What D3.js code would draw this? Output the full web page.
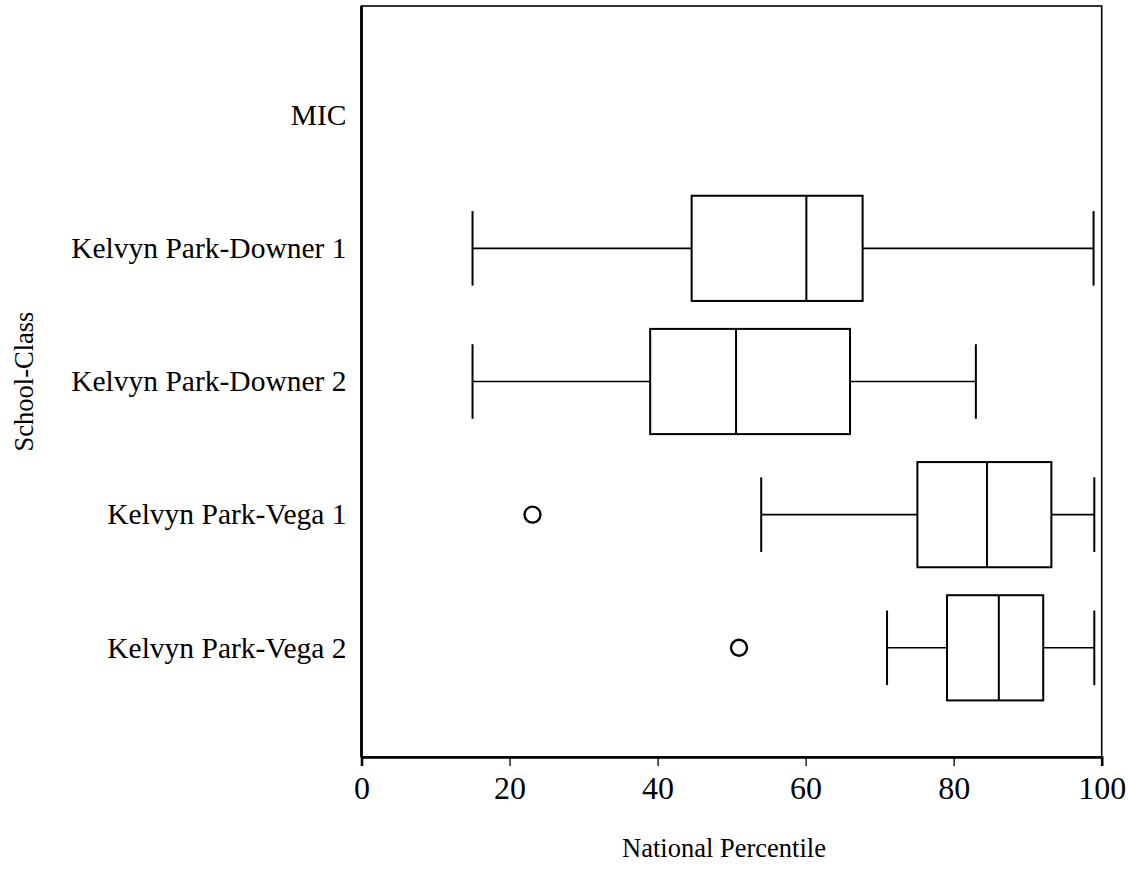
<!DOCTYPE html>
<html>
<head>
<meta charset="utf-8">
<script src="https://cdn.jsdelivr.net/npm/d3@7"></script>
<style>
  body { margin: 0; background: #fff; }
  text { font-family: 'Liberation Serif', 'Times New Roman', serif; fill: #000; }
</style>
</head>
<body>
<svg width="1128" height="895"></svg>
<script>
// data
const categories = ['MIC', 'Kelvyn Park-Downer 1', 'Kelvyn Park-Downer 2', 'Kelvyn Park-Vega 1', 'Kelvyn Park-Vega 2'];
const lowWhisker = [null, 15, 15, 54, 71];
const q1 = [null, 44.6, 39, 75.1, 79.1];
const median = [null, 60.1, 50.6, 84.5, 86.1];
const q3 = [null, 67.7, 66, 93.2, 92.1];
const highWhisker = [null, 98.9, 83, 99, 99];
const outliers = [[], [], [], [23.1], [51]];
const xTicks = [0, 20, 40, 60, 80, 100];

const svg = d3.select('svg');

const plotLeft = 361.5, plotRight = 1101.7, plotTop = 6, plotBottom = 757;

const x = d3.scaleLinear().domain([0, 100]).range([plotLeft, plotRight]);
const y = d3.scalePoint().domain(categories).range([plotTop, plotBottom]).padding(0.82);

const step = y.step();
const boxH = step * 0.79;
const capH = step * 0.56;

// 資料整理
const rows = categories.map((c, i) => ({
  cat: c, lo: lowWhisker[i], q1: q1[i], med: median[i], q3: q3[i], hi: highWhisker[i], out: outliers[i]
}));

// 外框
svg.append('rect')
  .attr('x', plotLeft).attr('y', plotTop)
  .attr('width', plotRight - plotLeft).attr('height', plotBottom - plotTop)
  .attr('fill', 'none').attr('stroke', '#000').attr('stroke-width', 1.6);

// x 軸
const xAxis = svg.append('g')
  .attr('transform', `translate(0,${plotBottom})`)
  .call(d3.axisBottom(x).tickValues(xTicks).tickSize(9).tickPadding(10));
xAxis.select('.domain').attr('stroke-width', 2.6);
xAxis.selectAll('.tick line').attr('stroke-width', 1.3);
xAxis.selectAll('.tick text')
  .style('font-family', "'Liberation Serif', 'Times New Roman', serif")
  .style('font-size', '32px');

// 左邊粗線
svg.append('line')
  .attr('x1', plotLeft).attr('x2', plotLeft).attr('y1', plotTop).attr('y2', plotBottom)
  .attr('stroke', '#000').attr('stroke-width', 2.8);

// 類別標籤
svg.selectAll('.cat-label')
  .data(categories)
  .enter()
  .append('text')
  .attr('class', 'cat-label')
  .attr('x', plotLeft - 15)
  .attr('y', (d) => y(d))
  .attr('dy', '0.33em')
  .attr('text-anchor', 'end')
  .style('font-size', '29.5px')
  .text((d) => d);

const box = svg.selectAll('.box')
  .data(rows.filter((d) => d.med != null))
  .enter()
  .append('g')
  .attr('class', 'box');

// whiskers
box.append('line')
  .attr('x1', (d) => x(d.lo)).attr('x2', (d) => x(d.q1))
  .attr('y1', (d) => y(d.cat)).attr('y2', (d) => y(d.cat))
  .attr('stroke', '#000').attr('stroke-width', 1.6);
box.append('line')
  .attr('x1', (d) => x(d.q3)).attr('x2', (d) => x(d.hi))
  .attr('y1', (d) => y(d.cat)).attr('y2', (d) => y(d.cat))
  .attr('stroke', '#000').attr('stroke-width', 1.6);
box.append('line')
  .attr('x1', (d) => x(d.lo)).attr('x2', (d) => x(d.lo))
  .attr('y1', (d) => y(d.cat) - capH / 2).attr('y2', (d) => y(d.cat) + capH / 2)
  .attr('stroke', '#000').attr('stroke-width', 2);
box.append('line')
  .attr('x1', (d) => x(d.hi)).attr('x2', (d) => x(d.hi))
  .attr('y1', (d) => y(d.cat) - capH / 2).attr('y2', (d) => y(d.cat) + capH / 2)
  .attr('stroke', '#000').attr('stroke-width', 2);

// box
box.append('rect')
  .attr('x', (d) => x(d.q1))
  .attr('y', (d) => y(d.cat) - boxH / 2)
  .attr('width', (d) => x(d.q3) - x(d.q1))
  .attr('height', boxH)
  .attr('fill', 'none').attr('stroke', '#000').attr('stroke-width', 2);

// median
box.append('line')
  .attr('x1', (d) => x(d.med)).attr('x2', (d) => x(d.med))
  .attr('y1', (d) => y(d.cat) - boxH / 2).attr('y2', (d) => y(d.cat) + boxH / 2)
  .attr('stroke', '#000').attr('stroke-width', 2);

// outliers
box.selectAll('circle')
  .data((d) => d.out.map((v) => ({ cat: d.cat, v: v })))
  .enter()
  .append('circle')
  .attr('cx', (d) => x(d.v))
  .attr('cy', (d) => y(d.cat))
  .attr('r', 8)
  .attr('fill', 'none').attr('stroke', '#000').attr('stroke-width', 2.4);

// 軸標題
svg.append('text')
  .attr('x', 724)
  .attr('y', 857)
  .attr('text-anchor', 'middle')
  .style('font-size', '26.5px')
  .text('National Percentile');

svg.append('text')
  .attr('transform', `translate(33,${(plotTop + plotBottom) / 2}) rotate(-90)`)
  .attr('text-anchor', 'middle')
  .style('font-size', '26.5px')
  .text('School-Class');
</script>
</body>
</html>
